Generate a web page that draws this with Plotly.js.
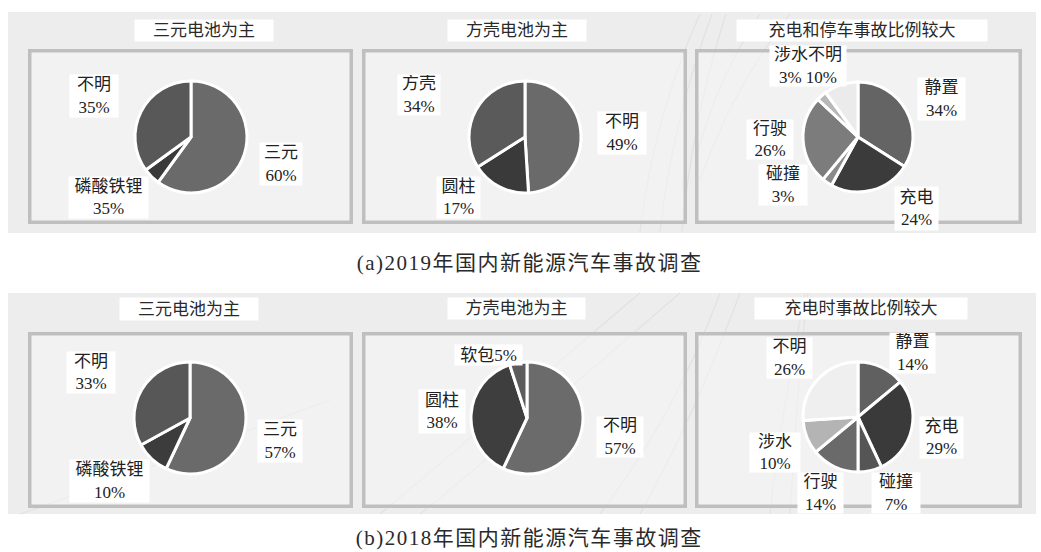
<!DOCTYPE html>
<html><head><meta charset="utf-8">
<script src="https://cdn.plot.ly/plotly-3.0.1.min.js"></script>
<style>html,body{margin:0;padding:0;background:#fff}#chart{width:1041px;height:552px}</style>
</head><body><div id="chart"></div>
<script>
// ---------------- DATA ----------------
const captions = ['(a)2019年国内新能源汽车事故调查', '(b)2018年国内新能源汽车事故调查'];
const titles2019 = ['三元电池为主', '方壳电池为主', '充电和停车事故比例较大'];
const titles2018 = ['三元电池为主', '方壳电池为主', '充电时事故比例较大'];

// 2019 – battery type
const a1Labels = ['三元', '磷酸铁锂', '不明'];
const a1Values = [60, 5, 35];
const a1Text   = ['60%', '35%', '35%'];
// 2019 – cell format
const a2Labels = ['不明', '圆柱', '方壳'];
const a2Values = [49, 17, 34];
const a2Text   = ['49%', '17%', '34%'];
// 2019 – vehicle state
const a3Labels = ['静置', '充电', '碰撞', '行驶', '涉水', '不明'];
const a3Values = [34, 24, 3, 26, 3, 10];
const a3Text   = ['34%', '24%', '3%', '26%', '3%', '10%'];

// 2018 – battery type
const b1Labels = ['三元', '磷酸铁锂', '不明'];
const b1Values = [57, 10, 33];
const b1Text   = ['57%', '10%', '33%'];
// 2018 – cell format
const b2Labels = ['不明', '圆柱', '软包'];
const b2Values = [57, 38, 5];
const b2Text   = ['57%', '38%', '5%'];
// 2018 – vehicle state
const b3Labels = ['静置', '充电', '碰撞', '行驶', '涉水', '不明'];
const b3Values = [14, 29, 7, 14, 10, 26];
const b3Text   = ['14%', '29%', '7%', '14%', '10%', '26%'];

// ---------------- LAYOUT / STYLE ----------------
const W = 1041, H = 552;
const px = x => x / W, py = y => 1 - y / H;
const FONT = 'Liberation Serif, Noto Sans CJK SC, serif';

const panels = [
  {labels:a1Labels, values:a1Values, text:a1Text, title:titles2019[0], cx:191, cy:137, r:56,
   colors:['#6a6a6a','#3a3a3a','#585858'],
   titleBox:[204,30.5,138,21],
   boxes:[{i:[1],c:[108.5,197.5],s:[79,41]},{i:[0],c:[281,164],s:[42,42]},{i:[2],c:[94,96],s:[48,42]}]},
  {labels:a2Labels, values:a2Values, text:a2Text, title:titles2019[1], cx:525, cy:137, r:56,
   colors:['#6a6a6a','#3a3a3a','#5a5a5a'],
   titleBox:[517,30.5,138,21],
   boxes:[{i:[0],c:[622,133],s:[48,42]},{i:[1],c:[458.5,197.5],s:[43,41]},{i:[2],c:[419,95],s:[42,40]}]},
  {labels:a3Labels, values:a3Values, text:a3Text, title:titles2019[2], cx:858, cy:137, r:55,
   colors:['#646464','#3b3b3b','#8a8a8a','#7c7c7c','#b8b8b8','#ebebeb'],
   titleBox:[862,30.5,250,21],
   boxes:[{i:[0],c:[941.5,99],s:[47,42]},{i:[1],c:[916.5,208.5],s:[43,43]},{i:[2],c:[783,185],s:[48,40]},
          {i:[3],c:[770,139.5],s:[46,39]},{i:[4,5],c:[807.5,66],s:[76,40]}]},
  {labels:b1Labels, values:b1Values, text:b1Text, title:titles2018[0], cx:190, cy:418, r:56,
   colors:['#6a6a6a','#3c3c3c','#575757'],
   titleBox:[189,309,138,22],
   boxes:[{i:[0],c:[280,441],s:[44,42]},{i:[1],c:[109.5,481],s:[79,42]},{i:[2],c:[91,372.5],s:[48,41]}]},
  {labels:b2Labels, values:b2Values, text:b2Text, title:titles2018[1], cx:527, cy:418, r:56,
   colors:['#6b6b6b','#3e3e3e','#5c5c5c'],
   titleBox:[516.5,308.5,137,21],
   boxes:[{i:[0],c:[620,437],s:[46,40]},{i:[1],c:[442,411.5],s:[46,43]},{i:[2],c:[488.5,355],s:[67,20],one:true}]},
  {labels:b3Labels, values:b3Values, text:b3Text, title:titles2018[2], cx:858, cy:417, r:55,
   colors:['#606060','#3a3a3a','#555555','#6a6a6a','#b4b4b4','#efefef'],
   titleBox:[861,308.5,212,21],
   boxes:[{i:[0],c:[912.5,353],s:[45,40]},{i:[1],c:[941.5,437.5],s:[43,41]},{i:[2],c:[896,493],s:[48,40]},
          {i:[3],c:[820.5,493],s:[45,40]},{i:[4],c:[775,452.5],s:[50,39]},{i:[5],c:[789.5,358],s:[45,40]}]}
];

const traces = [];
const annotations = [];
const shapes = [];

// background bands
[[12,233],[293,514]].forEach(([y0,y1]) => {
  shapes.push({type:'rect', xref:'paper', yref:'paper', layer:'below',
    x0:px(8), x1:px(1036), y0:py(y1), y1:py(y0), fillcolor:'#ededed', line:{width:0}});
});

// decorative light swooshes
const swooshes = [
  'M 700 14 C 670 80 650 150 640 232',
  'M 712 14 C 684 90 668 160 660 232',
  'M 726 14 C 700 95 688 165 682 232',
  'M 760 14 C 730 60 708 110 696 160',
  'M 790 14 C 755 60 725 110 700 180',
  'M 380 514 C 470 440 560 360 640 293',
  'M 420 514 C 500 450 590 370 680 293',
  'M 600 514 C 640 460 680 400 720 293',
  'M 640 514 C 670 460 700 400 740 293',
  'M 770 514 C 780 420 795 350 805 293',
  'M 790 514 C 796 420 800 350 808 293',
  'M 20 514 C 120 480 220 440 330 400'
];
swooshes.forEach(d => {
  const conv = d.replace(/(-?\d+(?:\.\d+)?) (-?\d+(?:\.\d+)?)/g, (m,a,b) => px(+a).toFixed(5)+','+py(+b).toFixed(5));
  shapes.push({type:'path', xref:'paper', yref:'paper', layer:'below', path:conv,
    line:{color:'#e2e2e2', width:1.2}});
});

// frames
const frameXs = [[28,353],[362,687],[695,1022]];
[[49,224],[332,508]].forEach(([t,b]) => {
  frameXs.forEach(([l,r]) => {
    shapes.push({type:'rect', xref:'paper', yref:'paper', layer:'below',
      x0:px(l+1.75), x1:px(r-1.75), y0:py(b-1.75), y1:py(t+1.75),
      fillcolor:'rgba(245,245,245,0.55)', line:{color:'#bfbfbf', width:3.5}});
  });
});

panels.forEach(p => {
  traces.push({
    type:'pie', labels:p.labels, values:p.values, sort:false, direction:'clockwise', rotation:0,
    textinfo:'none', hoverinfo:'skip', showlegend:false,
    marker:{colors:p.colors, line:{color:'#ffffff', width:3}},
    domain:{x:[px(p.cx-p.r), px(p.cx+p.r)], y:[py(p.cy+p.r), py(p.cy-p.r)]}
  });
  const [tx,ty,tw,th] = p.titleBox;
  annotations.push({xref:'paper', yref:'paper', x:px(tx), y:py(ty), xanchor:'center', yanchor:'middle',
    text:p.title, showarrow:false, bgcolor:'#ffffff', borderpad:0, width:tw, height:th,
    font:{family:FONT, size:17, color:'#2a2a2a'}});
  p.boxes.forEach(b => {
    const names = b.i.map(k => p.labels[k]).join('');
    const pcts = b.i.map(k => p.text[k]).join(' ');
    const txt = b.one ? names + pcts : names + '<br>' + pcts;
    annotations.push({xref:'paper', yref:'paper', x:px(b.c[0]), y:py(b.c[1]), xanchor:'center', yanchor:'middle',
      text:txt, showarrow:false, bgcolor:'#ffffff', borderpad:0, width:b.s[0], height:b.s[1],
      font:{family:FONT, size:17, color:'#222222'}});
  });
});

// captions
[[263,0],[538,1]].forEach(([y,k]) => {
  annotations.push({xref:'paper', yref:'paper', x:px(529), y:py(y), xanchor:'center', yanchor:'middle',
    text:captions[k], showarrow:false, font:{family:FONT, size:21, color:'#2a2a2a'}});
});

const layout = {
  width:W, height:H, margin:{l:0,r:0,t:0,b:0},
  paper_bgcolor:'#ffffff', plot_bgcolor:'#ffffff',
  showlegend:false, shapes, annotations
};

Plotly.newPlot('chart', traces, layout, {staticPlot:true, displayModeBar:false}).then(() => {
  document.querySelectorAll('.annotation-text').forEach(t => {
    if (captions.includes(t.textContent)) t.style.letterSpacing = '1.5px';
  });
});
</script></body></html>
